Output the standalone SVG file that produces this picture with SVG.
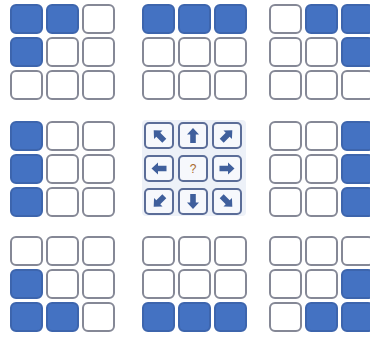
<svg xmlns="http://www.w3.org/2000/svg" xmlns:xlink="http://www.w3.org/1999/xlink" width="370" height="337" viewBox="0 0 370 337">
<style>
.e{fill:#ffffff;stroke:#858896;stroke-width:2}
.f{fill:#4472c2;stroke:#3d65ad;stroke-width:2}
.m{fill:#f6f8fc;stroke:#5b6d98;stroke-width:2}
.a{fill:#3f5f9c}
.q{font-family:"Liberation Sans",Arial,sans-serif;font-size:12px;fill:#a8692c;text-anchor:middle}
</style>
<defs>
<rect id="c" width="31" height="28" rx="5"/>
<rect id="mc" width="28" height="25" rx="4"/>
<polygon id="ar" points="0,-7.5 6,-1 2.8,-1 2.8,7.5 -2.8,7.5 -2.8,-1 -6,-1"/>
</defs>
<rect width="370" height="337" fill="#ffffff"/>
<g id="grid-tl" transform="translate(11,5)">
<use href="#c" x="0" y="0" class="f"/><use href="#c" x="36" y="0" class="f"/><use href="#c" x="72" y="0" class="e"/>
<use href="#c" x="0" y="33" class="f"/><use href="#c" x="36" y="33" class="e"/><use href="#c" x="72" y="33" class="e"/>
<use href="#c" x="0" y="66" class="e"/><use href="#c" x="36" y="66" class="e"/><use href="#c" x="72" y="66" class="e"/>
</g>
<g id="grid-tm" transform="translate(143,5)">
<use href="#c" x="0" y="0" class="f"/><use href="#c" x="36" y="0" class="f"/><use href="#c" x="72" y="0" class="f"/>
<use href="#c" x="0" y="33" class="e"/><use href="#c" x="36" y="33" class="e"/><use href="#c" x="72" y="33" class="e"/>
<use href="#c" x="0" y="66" class="e"/><use href="#c" x="36" y="66" class="e"/><use href="#c" x="72" y="66" class="e"/>
</g>
<g id="grid-tr" transform="translate(270,5)">
<use href="#c" x="0" y="0" class="e"/><use href="#c" x="36" y="0" class="f"/><use href="#c" x="72" y="0" class="f"/>
<use href="#c" x="0" y="33" class="e"/><use href="#c" x="36" y="33" class="e"/><use href="#c" x="72" y="33" class="f"/>
<use href="#c" x="0" y="66" class="e"/><use href="#c" x="36" y="66" class="e"/><use href="#c" x="72" y="66" class="e"/>
</g>
<g id="grid-ml" transform="translate(11,122)">
<use href="#c" x="0" y="0" class="f"/><use href="#c" x="36" y="0" class="e"/><use href="#c" x="72" y="0" class="e"/>
<use href="#c" x="0" y="33" class="f"/><use href="#c" x="36" y="33" class="e"/><use href="#c" x="72" y="33" class="e"/>
<use href="#c" x="0" y="66" class="f"/><use href="#c" x="36" y="66" class="e"/><use href="#c" x="72" y="66" class="e"/>
</g>
<g id="grid-center" transform="translate(145,123)">
<rect x="-3" y="-3" width="104" height="96" rx="4" fill="#edf1f8"/>
<use href="#mc" x="0" y="0" class="m"/><use href="#mc" x="34" y="0" class="m"/><use href="#mc" x="68" y="0" class="m"/>
<use href="#mc" x="0" y="33" class="m"/><use href="#mc" x="34" y="33" class="m"/><use href="#mc" x="68" y="33" class="m"/>
<use href="#mc" x="0" y="66" class="m"/><use href="#mc" x="34" y="66" class="m"/><use href="#mc" x="68" y="66" class="m"/>
<use href="#ar" class="a" transform="translate(14,12.5) rotate(-45)"/>
<use href="#ar" class="a" transform="translate(48,12.5)"/>
<use href="#ar" class="a" transform="translate(82,12.5) rotate(45)"/>
<use href="#ar" class="a" transform="translate(14,45.5) rotate(-90)"/>
<text class="q" x="48" y="50">?</text>
<use href="#ar" class="a" transform="translate(82,45.5) rotate(90)"/>
<use href="#ar" class="a" transform="translate(14,78.5) rotate(-135)"/>
<use href="#ar" class="a" transform="translate(48,78.5) rotate(180)"/>
<use href="#ar" class="a" transform="translate(82,78.5) rotate(135)"/>
</g>
<g id="grid-mr" transform="translate(270,122)">
<use href="#c" x="0" y="0" class="e"/><use href="#c" x="36" y="0" class="e"/><use href="#c" x="72" y="0" class="f"/>
<use href="#c" x="0" y="33" class="e"/><use href="#c" x="36" y="33" class="e"/><use href="#c" x="72" y="33" class="f"/>
<use href="#c" x="0" y="66" class="e"/><use href="#c" x="36" y="66" class="e"/><use href="#c" x="72" y="66" class="f"/>
</g>
<g id="grid-bl" transform="translate(11,237)">
<use href="#c" x="0" y="0" class="e"/><use href="#c" x="36" y="0" class="e"/><use href="#c" x="72" y="0" class="e"/>
<use href="#c" x="0" y="33" class="f"/><use href="#c" x="36" y="33" class="e"/><use href="#c" x="72" y="33" class="e"/>
<use href="#c" x="0" y="66" class="f"/><use href="#c" x="36" y="66" class="f"/><use href="#c" x="72" y="66" class="e"/>
</g>
<g id="grid-bm" transform="translate(143,237)">
<use href="#c" x="0" y="0" class="e"/><use href="#c" x="36" y="0" class="e"/><use href="#c" x="72" y="0" class="e"/>
<use href="#c" x="0" y="33" class="e"/><use href="#c" x="36" y="33" class="e"/><use href="#c" x="72" y="33" class="e"/>
<use href="#c" x="0" y="66" class="f"/><use href="#c" x="36" y="66" class="f"/><use href="#c" x="72" y="66" class="f"/>
</g>
<g id="grid-br" transform="translate(270,237)">
<use href="#c" x="0" y="0" class="e"/><use href="#c" x="36" y="0" class="e"/><use href="#c" x="72" y="0" class="e"/>
<use href="#c" x="0" y="33" class="e"/><use href="#c" x="36" y="33" class="e"/><use href="#c" x="72" y="33" class="f"/>
<use href="#c" x="0" y="66" class="e"/><use href="#c" x="36" y="66" class="f"/><use href="#c" x="72" y="66" class="f"/>
</g>
<g id="connectors"/>
</svg>
